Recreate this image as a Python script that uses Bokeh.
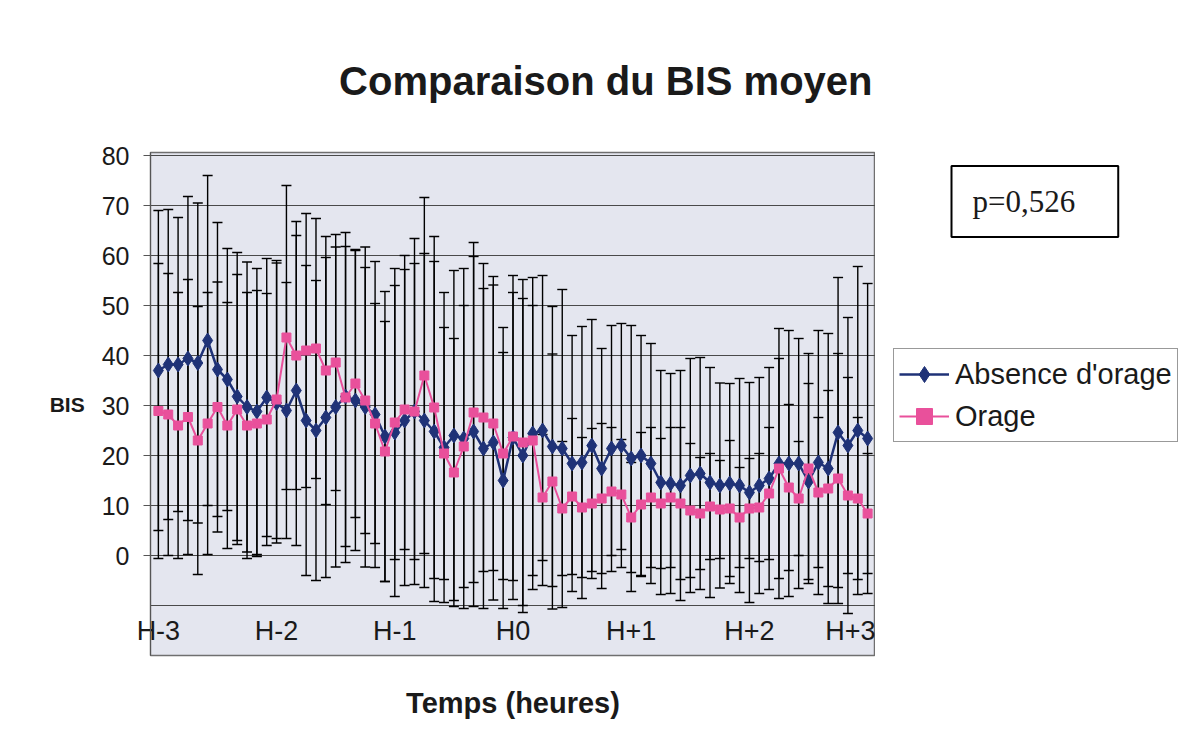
from bokeh.plotting import figure
from bokeh.models import (ColumnDataSource, Whisker, TeeHead, FixedTicker, Legend, LegendItem,
                          Label, Range1d)
from bokeh.layouts import row
from bokeh.embed import file_html
from bokeh.resources import INLINE

# time in minutes relative to H0 (one point every 5 minutes)
minutes = list(range(-180, 181, 5))
tick_pos = [-180, -120, -60, 0, 60, 120, 180]
tick_labels = ["H-3", "H-2", "H-1", "H0", "H+1", "H+2", "H+3"]

absence_mean = [37, 38.2, 38.2, 39.4, 38.5, 43, 37.2, 35.2, 31.8, 29.7, 28.8, 31.6, 30.5, 29, 33, 27, 25,
                27.6, 29.7, 31.8, 31, 29.7, 28.2, 23.8, 24.6, 27, 28.8, 27, 24.8, 21.6, 24, 23.4, 24.8,
                21.4, 22.6, 15, 23.6, 20, 24.4, 25, 21.8, 21.4, 18.4, 18.6, 22, 17.4, 21.4, 22, 19.4,
                20, 18.4, 14.6, 14.4, 14, 16, 16.4, 14.6, 14, 14.4, 14, 12.6, 14, 15.4, 18.4, 18.4,
                18.4, 14.8, 18.6, 17.4, 24.6, 22, 25, 23.4]
absence_sd = [32, 31, 29.4, 32.4, 32, 33, 29.4, 26.2, 28.8, 29, 28.6, 27.8, 28, 25.6, 31, 31, 30,
              32, 32, 30, 30, 32, 30.6, 29, 32.8, 33, 34.6, 33.4, 34, 31, 33, 34, 35,
              32, 31.5, 25.6, 32.4, 31.4, 31.2, 31, 28, 31.8, 25.6, 27.2, 25.2, 24, 24.6, 24.4, 26.6,
              24, 24, 22.4, 22, 23, 23.4, 23.2, 23, 20.5, 20, 21.4, 22, 21.6, 22.2, 27, 26.6,
              25, 19.6, 26.4, 27, 31, 25.6, 32.8, 31]
orage_mean = [28.9, 28.2, 26, 27.7, 23, 26.4, 29.7, 26, 29.2, 26, 26.4, 27.2, 31.2, 43.6, 40, 41, 41.4,
              37, 38.6, 31.6, 34.4, 31, 26.4, 20.8, 26.6, 29.2, 28.8, 36, 29.6, 20.4, 16.6, 21.8, 28.6,
              27.6, 26.4, 20.4, 23.8, 22.6, 23, 11.6, 14.8, 9.4, 11.8, 9.6, 10.4, 11.4, 12.8, 12.2, 7.6,
              10.2, 11.6, 10.4, 11.6, 10.4, 9, 8.4, 9.8, 9.2, 9.4, 7.6, 9.4, 9.6, 12.4, 17.4, 13.6,
              11.4, 17.4, 12.6, 13.4, 15.4, 12, 11.4, 8.4]
orage_sd = [29.5, 28.2, 26.6, 27.5, 26.8, 26.2, 25, 24.6, 27, 26.6, 26.6, 25.2, 27.8, 30.4, 26.8, 27.4, 26,
            26.8, 25.6, 33, 26.8, 26.6, 24, 26, 27.4, 28, 29.6, 35.6, 34.2, 25.2, 26.8, 28.2, 34,
            30.8, 29.4, 25.2, 28.8, 32.6, 27, 12.6, 25.5, 13.4, 15.6, 14, 15, 15, 12.8, 11, 11,
            14.4, 14, 13, 14, 15.2, 13.4, 11.2, 10.6, 9.8, 13.6, 10, 10, 10.8, 13.2, 22, 16.6,
            11.4, 23, 15, 19.6, 25, 23.6, 16.2, 12]
series_names = ["Absence d'orage", "Orage"]
p_value_text = "p=0,526"

BLUE = "#1f3277"
PINK = "#e9509b"
FONT = "Liberation Sans"

src_a = ColumnDataSource(dict(x=minutes, y=absence_mean,
                              up=[m + s for m, s in zip(absence_mean, absence_sd)],
                              lo=[m - s for m, s in zip(absence_mean, absence_sd)]))
src_o = ColumnDataSource(dict(x=minutes, y=orage_mean,
                              up=[m + s for m, s in zip(orage_mean, orage_sd)],
                              lo=[m - s for m, s in zip(orage_mean, orage_sd)]))

p = figure(frame_width=725, frame_height=503, output_backend="svg", toolbar_location=None,
           x_range=(-184, 184), y_range=(-20, 80.6),
           min_border_left=150, min_border_right=0, min_border_top=152, min_border_bottom=83)
p.background_fill_color = "#e4e6ef"
p.border_fill_color = "white"
p.outline_line_color = "#6f6f6f"
p.outline_line_width = 1.5

# title
p.title.text = "Comparaison du BIS moyen"
p.title.align = "right"
p.title.offset = 3
p.title.standoff = 100
p.title.text_font = FONT
p.title.text_font_size = "40px"
p.title.text_font_style = "bold"
p.title.text_color = "#1a1a1a"

# grid
p.xgrid.visible = False
p.ygrid.ticker = FixedTicker(ticks=[-10, 0, 10, 20, 30, 40, 50, 60, 70, 80])
p.ygrid.grid_line_color = "#4a4a4a"
p.ygrid.grid_line_width = 1

# y axis
yax = p.yaxis[0]
yax.ticker = FixedTicker(ticks=[0, 10, 20, 30, 40, 50, 60, 70, 80])
yax.axis_label = "BIS"
yax.axis_label_orientation = "horizontal"
yax.axis_label_text_font = FONT
yax.axis_label_text_font_style = "bold"
yax.axis_label_text_font_size = "21px"
yax.axis_label_text_color = "#1a1a1a"
yax.axis_label_standoff = 14
yax.major_label_text_font = FONT
yax.major_label_text_font_size = "25px"
yax.major_label_text_color = "#1a1a1a"
yax.major_label_standoff = 14
yax.major_tick_out = 7
yax.major_tick_in = 0
yax.minor_tick_out = 0
yax.minor_tick_in = 0
yax.axis_line_color = "#555555"
yax.major_tick_line_color = "#555555"

# x axis
xax = p.xaxis[0]
xax.ticker = FixedTicker(ticks=tick_pos)
xax.major_label_overrides = {t: l for t, l in zip(tick_pos, tick_labels)}
xax.major_label_text_font = FONT
xax.major_label_text_font_size = "27px"
xax.major_label_text_color = "#1a1a1a"
xax.major_label_standoff = -40
xax.major_tick_out = 0
xax.major_tick_in = 0
xax.minor_tick_out = 0
xax.minor_tick_in = 0
xax.axis_line_color = "#6f6f6f"
xax.axis_label = "Temps (heures)"
xax.axis_label_text_font = FONT
xax.axis_label_text_font_style = "bold"
xax.axis_label_text_font_size = "29px"
xax.axis_label_text_color = "#1a1a1a"
xax.axis_label_standoff = 38

# error bars (mean +/- SD)
for src in (src_a, src_o):
    w = Whisker(base="x", upper="up", lower="lo", source=src,
                line_color="black", line_width=1.4,
                upper_head=TeeHead(size=10, line_color="black", line_width=1.4),
                lower_head=TeeHead(size=10, line_color="black", line_width=1.4))
    p.add_layout(w)

p.line("x", "y", source=src_a, line_color=BLUE, line_width=2.5)
p.scatter("x", "y", source=src_a, marker="diamond", size=15, fill_color=BLUE, line_color=BLUE)
p.line("x", "y", source=src_o, line_color=PINK, line_width=2)
p.scatter("x", "y", source=src_o, marker="square", size=9, fill_color=PINK, line_color=PINK)

# right-hand side panel (pixel-like ranges): p-value box and legend
side = figure(frame_width=303, frame_height=503, output_backend="svg", toolbar_location=None,
              x_range=Range1d(875, 1178), y_range=Range1d(655, 152),
              x_axis_location=None, y_axis_location=None,
              min_border_left=0, min_border_right=0, min_border_top=152, min_border_bottom=83)
side.outline_line_color = None
side.background_fill_color = "white"
side.border_fill_color = "white"
side.xgrid.visible = False
side.ygrid.visible = False

# same series drawn here only for the legend glyphs (outside this panel's visible range)
sa_l = side.line("x", "y", source=src_a, line_color=BLUE, line_width=2.5)
sa_s = side.scatter("x", "y", source=src_a, marker="diamond", size=15, fill_color=BLUE, line_color=BLUE)
so_l = side.line("x", "y", source=src_o, line_color=PINK, line_width=2)
so_s = side.scatter("x", "y", source=src_o, marker="square", size=9, fill_color=PINK, line_color=PINK)

legend = Legend(items=[LegendItem(label=series_names[0], renderers=[sa_l, sa_s]),
                       LegendItem(label=series_names[1], renderers=[so_l, so_s])],
                location=(18, 213))
legend.label_text_font = FONT
legend.label_text_font_size = "29px"
legend.label_text_color = "#1a1a1a"
legend.glyph_width = 50
legend.glyph_height = 40
legend.label_height = 40
legend.label_standoff = 6
legend.spacing = 2
legend.padding = 5
legend.margin = 0
legend.border_line_color = "#333333"
legend.border_line_width = 1.2
legend.background_fill_color = "white"
side.add_layout(legend)

pval = Label(x=951, y=201, text=p_value_text,
             text_font="Liberation Serif", text_font_size="31px", text_color="#1a1a1a",
             text_baseline="middle", text_align="left",
             border_line_color="black", border_line_width=2,
             background_fill_color="white",
             padding=dict(left=21, right=43, top=18, bottom=18))
side.add_layout(pval)

layout = row(p, side)
open("out.html", "w").write(file_html(layout, INLINE))
